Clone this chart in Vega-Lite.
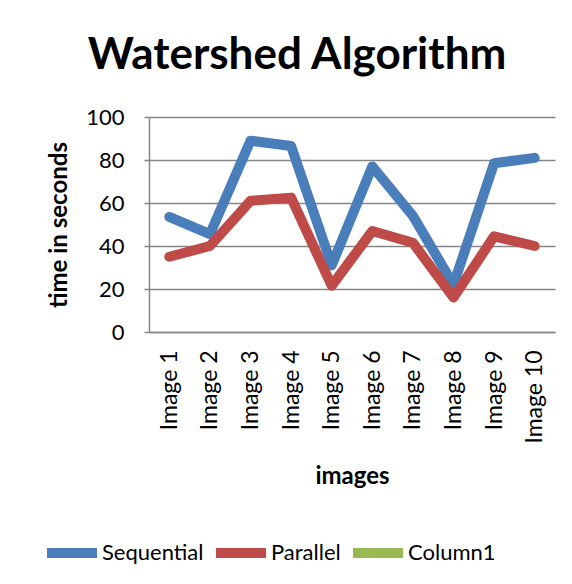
{
  "$schema": "https://vega.github.io/schema/vega-lite/v6.json",
  "width": 406,
  "height": 215,
  "autosize": {"type": "none"},
  "padding": {"left": 149, "top": 117, "right": 17, "bottom": 252},
  "background": "white",
  "title": {
    "text": "Watershed Algorithm",
    "font": "Lato",
    "fontSize": 44,
    "fontWeight": "bold",
    "color": "black",
    "anchor": "middle",
    "dx": -55,
    "offset": 28
  },
  "data": {
    "values": [
      {"image": "Image 1", "series": "Sequential", "value": 53.5},
      {"image": "Image 2", "series": "Sequential", "value": 45.5},
      {"image": "Image 3", "series": "Sequential", "value": 89},
      {"image": "Image 4", "series": "Sequential", "value": 86.5},
      {"image": "Image 5", "series": "Sequential", "value": 31},
      {"image": "Image 6", "series": "Sequential", "value": 77},
      {"image": "Image 7", "series": "Sequential", "value": 54},
      {"image": "Image 8", "series": "Sequential", "value": 22},
      {"image": "Image 9", "series": "Sequential", "value": 78.5},
      {"image": "Image 10", "series": "Sequential", "value": 81},
      {"image": "Image 1", "series": "Parallel", "value": 35},
      {"image": "Image 2", "series": "Parallel", "value": 40},
      {"image": "Image 3", "series": "Parallel", "value": 61},
      {"image": "Image 4", "series": "Parallel", "value": 62.5},
      {"image": "Image 5", "series": "Parallel", "value": 21.5},
      {"image": "Image 6", "series": "Parallel", "value": 47},
      {"image": "Image 7", "series": "Parallel", "value": 41.5},
      {"image": "Image 8", "series": "Parallel", "value": 16},
      {"image": "Image 9", "series": "Parallel", "value": 44.5},
      {"image": "Image 10", "series": "Parallel", "value": 40}
    ]
  },
  "mark": {"type": "line", "strokeWidth": 10, "strokeCap": "round", "strokeJoin": "round"},
  "encoding": {
    "x": {
      "field": "image",
      "type": "nominal",
      "sort": null,
      "scale": {"type": "point", "padding": 0.5},
      "axis": {
        "title": "images",
        "labelAngle": -90,
        "labelFont": "Lato",
        "labelFontSize": 23,
        "labelColor": "black",
        "labelPadding": 18,
        "ticks": false,
        "domainColor": "#868686",
        "domainWidth": 1.5,
        "titleFont": "Lato",
        "titleFontSize": 24,
        "titleFontWeight": "bold",
        "titleColor": "black",
        "titlePadding": 21,
        "grid": false
      }
    },
    "y": {
      "field": "value",
      "type": "quantitative",
      "scale": {"domain": [0, 100], "nice": false},
      "axis": {
        "title": "time in seconds",
        "values": [0, 20, 40, 60, 80, 100],
        "labelFont": "Lato",
        "labelFontSize": 22,
        "labelColor": "black",
        "labelPadding": 20,
        "tickSize": 5,
        "tickColor": "#868686",
        "tickWidth": 1.5,
        "domainColor": "#868686",
        "domainWidth": 1.5,
        "grid": true,
        "gridColor": "#868686",
        "gridWidth": 1.5,
        "titleFont": "Lato",
        "titleFontSize": 24,
        "titleFontWeight": "bold",
        "titleColor": "black",
        "titlePadding": 14
      }
    },
    "color": {
      "field": "series",
      "type": "nominal",
      "scale": {
        "domain": ["Sequential", "Parallel", "Column1"],
        "range": ["#4A7EBB", "#BE4B48", "#98B954"]
      },
      "legend": {
        "title": null,
        "orient": "none",
        "direction": "horizontal",
        "legendX": -107,
        "legendY": 406,
        "symbolType": "stroke",
        "symbolSize": 2500,
        "symbolStrokeWidth": 10,
        "labelFont": "Lato",
        "labelFontSize": 22,
        "labelColor": "black",
        "labelOffset": 0,
        "columnPadding": -8,
        "encoding": {"symbols": {"update": {"strokeCap": {"value": "round"}}}}
      }
    }
  },
  "config": {"view": {"stroke": null}}
}
